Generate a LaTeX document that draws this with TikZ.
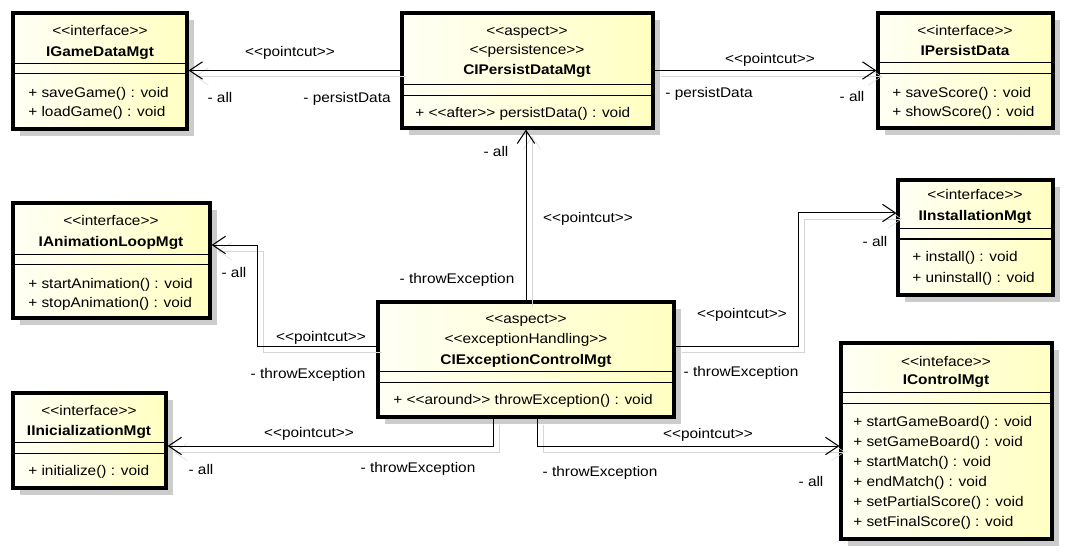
\documentclass[tikz,border=0pt]{standalone}
\usepackage{fontspec}
\setmainfont[FakeStretch=1.1]{Liberation Sans}
\usetikzlibrary{arrows.meta,calc,fit,shadows}

\newcommand{\guil}[1]{<{}<#1>{}>}

\tikzset{
  classbox/.style={draw, line width=2.4pt, inner sep=0pt,
    left color=yellow!4, right color=yellow!24,
    drop shadow={shadow xshift=5.25pt, shadow yshift=-5.25pt, fill=black!20, opacity=1}},
  sep/.style={line width=0.75pt},
  txt/.style={inner sep=0pt, text height=7.5pt, text depth=0pt,
    font=\fontsize{10.5pt}{12pt}\selectfont},
  cname/.style={txt, font=\fontsize{10.5pt}{12pt}\selectfont\bfseries},
  meth/.style={txt, anchor=west},
  conn/.style={line width=0.75pt, -{Straight Barb[length=9.75pt,width=13pt]},
    preaction={draw=black!16, transform canvas={shift={(4.5pt,-4.5pt)}}}}
}

\begin{document}
\begin{tikzpicture}[x=0.75pt,y=-0.75pt]
\useasboundingbox (0,0) rectangle (1066,552);

% classes
\node[classbox, fit={(13,13) (187,129)}] (gamedata) {};
\draw[sep] (13,64) -- (187,64) (13,74) -- (187,74);
\node[txt] (gamedataS) at (100,31) {\guil{interface}};
\node[cname] (gamedataN) at (100,52) {IGameDataMgt};
\node[meth] (gamedataM1) at (28,93) {+ saveGame() : void};
\node[meth] (gamedataM2) at (28,112) {+ loadGame() : void};

\node[classbox, fit={(402,13) (653,128)}] (persist) {};
\draw[sep] (402,85) -- (653,85) (402,96) -- (653,96);
\node[txt] (persistS1) at (527,31) {\guil{aspect}};
\node[txt] (persistS2) at (527,50) {\guil{persistence}};
\node[cname] (persistN) at (527,70) {CIPersistDataMgt};
\node[meth] (persistM1) at (415,113) {+ \guil{after} persistData() : void};

\node[classbox, fit={(878,13) (1053,128)}] (persistdata) {};
\draw[sep] (878,63) -- (1053,63) (878,74) -- (1053,74);
\node[txt] (persistdataS) at (965,31) {\guil{interface}};
\node[cname] (persistdataN) at (965,51) {IPersistData};
\node[meth] (persistdataM1) at (892,93) {+ saveScore() : void};
\node[meth] (persistdataM2) at (892,112) {+ showScore() : void};

\node[classbox, fit={(13,203) (210,318)}] (animloop) {};
\draw[sep] (13,254) -- (210,254) (13,264) -- (210,264);
\node[txt] (animloopS) at (111,221) {\guil{interface}};
\node[cname] (animloopN) at (111,241) {IAnimationLoopMgt};
\node[meth] (animloopM1) at (28,283) {+ startAnimation() : void};
\node[meth] (animloopM2) at (28,302) {+ stopAnimation() : void};

\node[classbox, fit={(378,302) (674,417)}] (exception) {};
\draw[sep] (378,371) -- (674,371) (378,382) -- (674,382);
\node[txt] (exceptionS1) at (526,318) {\guil{aspect}};
\node[txt] (exceptionS2) at (526,338) {\guil{exceptionHandling}};
\node[cname] (exceptionN) at (526,359) {CIExceptionControlMgt};
\node[meth] (exceptionM1) at (393,399) {+ \guil{around} throwException() : void};

\node[classbox, fit={(898,180) (1053,295)}] (installation) {};
\draw[sep] (898,229) -- (1053,229) (898,239) -- (1053,239);
\node[txt] (installationS) at (975,195) {\guil{interface}};
\node[cname] (installationN) at (975,216) {IInstallationMgt};
\node[meth] (installationM1) at (912,257) {+ install() : void};
\node[meth] (installationM2) at (912,277) {+ uninstall() : void};

\node[classbox, fit={(13,393) (166,488)}] (inicialization) {};
\draw[sep] (13,442) -- (166,442) (13,453) -- (166,453);
\node[txt] (inicializationS) at (89,410) {\guil{interface}};
\node[cname] (inicializationN) at (89,430) {IInicializationMgt};
\node[meth] (inicializationM1) at (28,470) {+ initialize() : void};

\node[classbox, fit={(841,343) (1052,539)}] (control) {};
\draw[sep] (841,392) -- (1052,392) (841,403) -- (1052,403);
\node[txt] (controlS) at (946,361) {\guil{inteface}};
\node[cname] (controlN) at (946,379) {IControlMgt};
\node[meth] (controlM1) at (853,421) {+ startGameBoard() : void};
\node[meth] (controlM2) at (853,441) {+ setGameBoard() : void};
\node[meth] (controlM3) at (853,461) {+ startMatch() : void};
\node[meth] (controlM4) at (853,481) {+ endMatch() : void};
\node[meth] (controlM5) at (853,501) {+ setPartialScore() : void};
\node[meth] (controlM6) at (853,521) {+ setFinalScore() : void};

% pointcuts
\draw[conn] (persist.west) -- (persist.west -| gamedata.east);
\node[txt] (pc1) at (290,52) {\guil{pointcut}};
\node[txt] (pc1a) at (220,98) {- all};
\node[txt] (pc1b) at (347,98) {- persistData};

\draw[conn] (persist.east) -- (persist.east -| persistdata.west);
\node[txt] (pc2) at (770,59) {\guil{pointcut}};
\node[txt] (pc2a) at (852,97) {- all};
\node[txt] (pc2b) at (709,93) {- persistData};

\draw[conn] (exception.north) -- (exception.north |- persist.south);
\node[txt] (pc3) at (588,218) {\guil{pointcut}};
\node[txt] (pc3a) at (496,152) {- all};
\node[txt] (pc3b) at (457,278) {- throwException};

\draw[conn] ($(exception.west)+(0,-13.5)$) -- ++(-119,0) |- ($(animloop.east)+(0,-15.5)$);
\node[txt] (pc4) at (321,336) {\guil{pointcut}};
\node[txt] (pc4a) at (234,272) {- all};
\node[txt] (pc4b) at (308,373) {- throwException};

\draw[conn] ($(exception.east)+(0,-13.5)$) -- ++(123,0) |- ($(installation.west)+(0,-24.5)$);
\node[txt] (pc5) at (742,313) {\guil{pointcut}};
\node[txt] (pc5a) at (875,242) {- all};
\node[txt] (pc5b) at (741,371) {- throwException};

\draw[conn] ($(exception.south)+(-33,0)$) |- ($(inicialization.east)+(0,5.5)$);
\node[txt] (pc6) at (309,432) {\guil{pointcut}};
\node[txt] (pc6a) at (201,469) {- all};
\node[txt] (pc6b) at (418,467) {- throwException};

\draw[conn] ($(exception.south)+(11,0)$) |- ($(control.west)+(0,5)$);
\node[txt] (pc7) at (708,433) {\guil{pointcut}};
\node[txt] (pc7a) at (811,481) {- all};
\node[txt] (pc7b) at (600,471) {- throwException};

\end{tikzpicture}
\end{document}
